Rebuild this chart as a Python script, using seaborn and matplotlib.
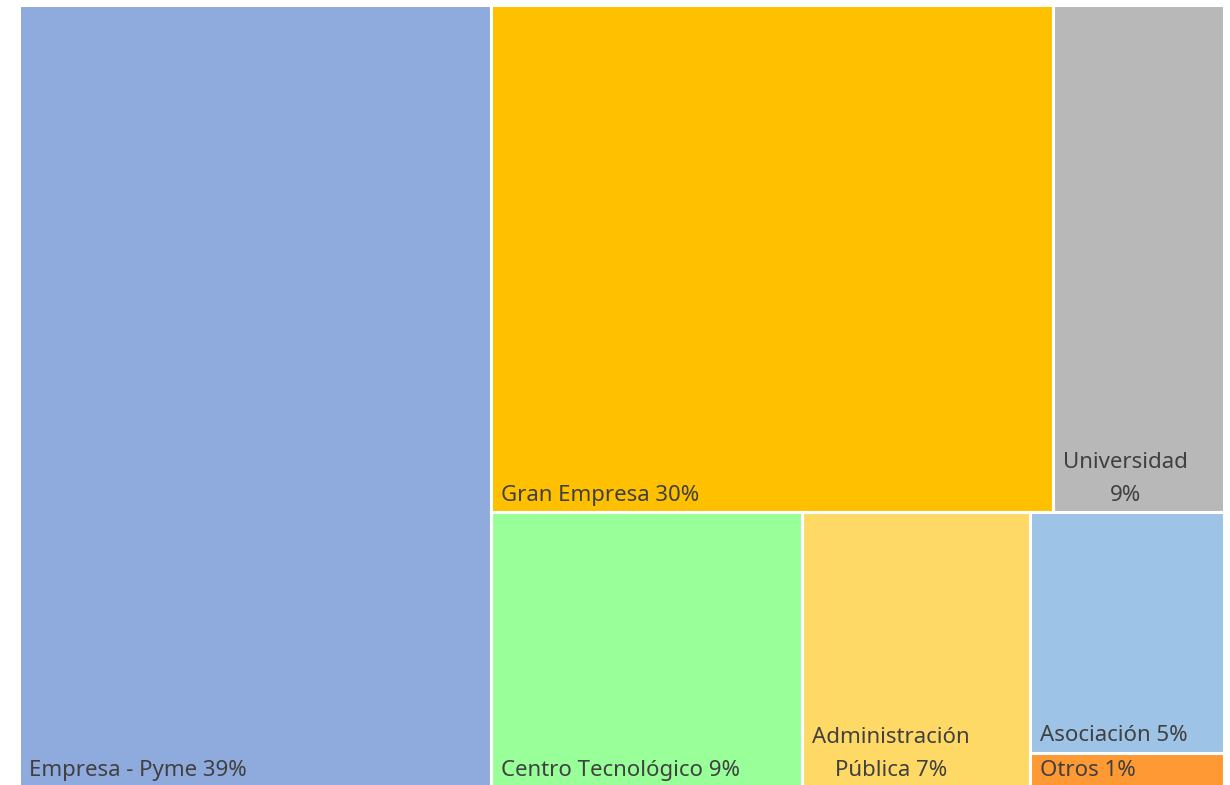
import matplotlib
matplotlib.use("Agg")
import matplotlib.pyplot as plt
import seaborn as sns
from matplotlib.patches import Rectangle

# Participation by type of entity (share of total, %)
categories = ["Empresa - Pyme", "Gran Empresa", "Universidad", "Centro Tecnológico",
              "Administración\nPública", "Asociación", "Otros"]
values = [38.9, 30.0, 9.1, 9.0, 6.6, 4.9, 0.7]
pct_labels = ["39%", "30%", "9%", "9%", "7%", "5%", "1%"]
label_sep = [" ", " ", "\n", " ", " ", " ", " "]
colors = ["#8FAADC", "#FFC000", "#B8B8B8", "#99FF99", "#FFD966", "#9DC3E6", "#FF9933"]

# tree structure of the treemap: ("h", ...) splits left-right, ("v", ...) top-bottom
layout = ("h", [0, ("v", [("h", [1, 2]), ("h", [3, 4, ("v", [5, 6])])])])


def total(node):
    if isinstance(node, int):
        return values[node]
    return sum(total(c) for c in node[1])


def place(node, x, y, w, h, out):
    if isinstance(node, int):
        out[node] = (x, y, w, h)
        return
    kind, children = node
    s = total(node)
    for c in children:
        f = total(c) / s
        if kind == "h":
            place(c, x, y, w * f, h, out)
            x += w * f
        else:
            place(c, x, y, w, h * f, out)
            y += h * f


rects = {}
place(layout, 0, 0, 1, 1, rects)

sns.set_theme(style="white")
plt.rcParams["font.family"] = ["Noto Sans", "DejaVu Sans"]

fig = plt.figure(figsize=(12.3, 7.85), dpi=100)
ax = fig.add_axes([18.5 / 1230, -2 / 785, 1205 / 1230, 782 / 785])
ax.set_xlim(0, 1)
ax.set_ylim(1, 0)

for i, (x, y, w, h) in rects.items():
    ax.add_patch(Rectangle((x, y), w, h, facecolor=colors[i], edgecolor="white", linewidth=2.2))
    ax.annotate(categories[i] + label_sep[i] + pct_labels[i], xy=(x, y + h),
                xytext=(7.5, 4.5), textcoords="offset points", ha="left", va="bottom",
                multialignment="center", linespacing=1.75, fontsize=16, color="#404040",
                annotation_clip=False)

ax.axis("off")
fig.savefig("out.png", dpi=100)
